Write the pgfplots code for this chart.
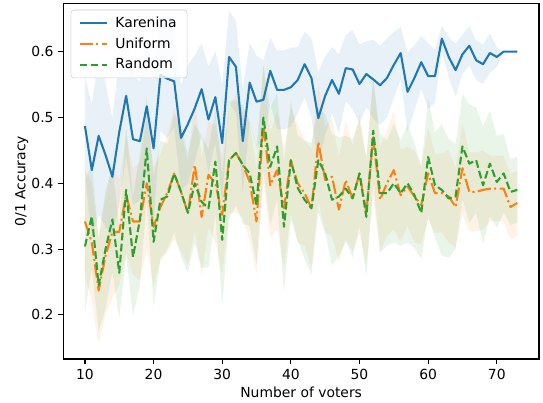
\documentclass[border=0pt]{standalone}
\usepackage{fontspec}
\setmainfont{DejaVu Sans}
\usepackage{pgfplots}
\pgfplotsset{compat=1.18}
\usepgfplotslibrary{fillbetween}
\usepackage{pgfplotstable}

\definecolor{cK}{RGB}{31,119,180}
\definecolor{cU}{RGB}{255,127,14}
\definecolor{cR}{RGB}{44,160,44}

\pgfplotstableread{
x k ke u ue r re
10 0.487 0.075 0.342 0.08 0.304 0.10
11 0.420 0.10 0.310 0.09 0.350 0.08
12 0.472 0.12 0.237 0.08 0.245 0.07
13 0.443 0.11 0.290 0.09 0.300 0.09
14 0.410 0.09 0.326 0.10 0.345 0.08
15 0.478 0.11 0.326 0.08 0.264 0.07
16 0.533 0.09 0.382 0.09 0.390 0.10
17 0.467 0.10 0.342 0.08 0.288 0.09
18 0.464 0.09 0.342 0.09 0.344 0.10
19 0.517 0.10 0.400 0.10 0.453 0.08
20 0.453 0.11 0.334 0.09 0.311 0.10
21 0.565 0.085 0.364 0.08 0.375 0.09
22 0.559 0.09 0.385 0.09 0.380 0.08
23 0.555 0.07 0.415 0.10 0.415 0.09
24 0.469 0.08 0.387 0.09 0.387 0.10
25 0.490 0.09 0.355 0.08 0.355 0.09
26 0.514 0.08 0.428 0.10 0.400 0.09
27 0.543 0.07 0.349 0.09 0.372 0.10
28 0.497 0.08 0.413 0.08 0.362 0.09
29 0.531 0.07 0.400 0.09 0.433 0.08
30 0.461 0.09 0.352 0.09 0.314 0.10
31 0.592 0.07 0.435 0.08 0.435 0.09
32 0.577 0.07 0.446 0.09 0.446 0.08
33 0.464 0.08 0.428 0.08 0.428 0.09
34 0.553 0.06 0.402 0.09 0.415 0.08
35 0.524 0.07 0.342 0.08 0.367 0.09
36 0.527 0.06 0.490 0.09 0.500 0.08
37 0.571 0.05 0.397 0.08 0.425 0.09
38 0.542 0.06 0.420 0.09 0.456 0.08
39 0.542 0.06 0.362 0.09 0.334 0.10
40 0.546 0.06 0.435 0.08 0.435 0.09
41 0.557 0.05 0.400 0.09 0.393 0.08
42 0.581 0.05 0.385 0.08 0.375 0.09
43 0.560 0.06 0.362 0.09 0.362 0.10
44 0.499 0.07 0.463 0.09 0.435 0.08
45 0.533 0.06 0.405 0.08 0.415 0.09
46 0.557 0.05 0.410 0.09 0.375 0.10
47 0.536 0.06 0.360 0.08 0.380 0.09
48 0.575 0.05 0.405 0.09 0.392 0.08
49 0.573 0.06 0.377 0.08 0.377 0.09
50 0.551 0.06 0.415 0.09 0.415 0.08
51 0.566 0.05 0.355 0.08 0.349 0.09
52 0.558 0.06 0.470 0.09 0.480 0.08
53 0.549 0.06 0.375 0.08 0.385 0.09
54 0.560 0.06 0.400 0.08 0.385 0.08
55 0.580 0.05 0.420 0.09 0.400 0.09
56 0.598 0.04 0.382 0.07 0.385 0.08
57 0.539 0.06 0.395 0.06 0.400 0.09
58 0.560 0.05 0.380 0.07 0.382 0.08
59 0.584 0.04 0.367 0.06 0.355 0.07
60 0.563 0.05 0.415 0.07 0.440 0.09
61 0.563 0.04 0.385 0.06 0.397 0.08
62 0.620 0.02 0.385 0.06 0.390 0.10
63 0.592 0.03 0.380 0.07 0.377 0.09
64 0.572 0.04 0.364 0.06 0.380 0.08
65 0.596 0.03 0.423 0.07 0.456 0.08
66 0.609 0.03 0.387 0.06 0.430 0.09
67 0.587 0.03 0.387 0.06 0.435 0.08
68 0.581 0.03 0.390 0.06 0.397 0.09
69 0.598 0.03 0.392 0.05 0.430 0.08
70 0.592 0.015 0.392 0.05 0.402 0.07
71 0.600 0 0.392 0.05 0.415 0.06
72 0.600 0 0.364 0.05 0.387 0.05
73 0.600 0 0.370 0.05 0.390 0.05
}\data

\begin{document}
\fontsize{10}{12}\selectfont
\begin{tikzpicture}
\begin{axis}[
  scale only axis, width=342.5pt, height=256.1pt,
  xmin=6.85, xmax=76.15, ymin=0.133, ymax=0.6735,
  xtick={10,20,...,70}, ytick={0.2,0.3,0.4,0.5,0.6},
  yticklabel style={/pgf/number format/fixed, /pgf/number format/precision=1, /pgf/number format/fixed zerofill},
  /pgf/number format/assume math mode=true,
  tick label style={font=\fontsize{10}{12}\selectfont},
  label style={font=\fontsize{10}{12}\selectfont},
  tick align=outside, xtick pos=lower, ytick pos=left,
  major tick length=3.5pt,
  tick style={black, line width=0.8pt},
  axis line style={black, line width=0.8pt},
  xlabel={Number of voters}, ylabel={0/1 Accuracy},
  xlabel style={at={([yshift=-24pt]rel axis cs:0.5,0)}, anchor=center},
  ylabel style={at={([xshift=-30pt]rel axis cs:0,0.5)}, anchor=center, rotate=0},
  legend style={at={(rel axis cs:0,1)}, anchor=north west, xshift=5.3pt, yshift=-4.6pt,
    draw=black!20, fill=white, fill opacity=0.8, text opacity=1, rounded corners=2pt,
    font=\fontsize{10}{12}\selectfont, row sep=1.8pt, inner xsep=5.5pt, inner ysep=3pt,
    cells={anchor=west}, column sep=3pt},
  legend image code/.code={\draw[#1] (0pt,0pt) -- (20pt,0pt);},
]
% bands
\addplot[draw=none, name path=kU, forget plot] table[x=x, y expr=\thisrow{k}+\thisrow{ke}] {\data};
\addplot[draw=none, name path=kL, forget plot] table[x=x, y expr=\thisrow{k}-\thisrow{ke}] {\data};
\addplot[fill=cK, fill opacity=0.1, draw=none, forget plot] fill between[of=kU and kL];
\addplot[draw=none, name path=uU, forget plot] table[x=x, y expr=\thisrow{u}+\thisrow{ue}] {\data};
\addplot[draw=none, name path=uL, forget plot] table[x=x, y expr=\thisrow{u}-\thisrow{ue}] {\data};
\addplot[fill=cU, fill opacity=0.1, draw=none, forget plot] fill between[of=uU and uL];
\addplot[draw=none, name path=rU, forget plot] table[x=x, y expr=\thisrow{r}+\thisrow{re}] {\data};
\addplot[draw=none, name path=rL, forget plot] table[x=x, y expr=\thisrow{r}-\thisrow{re}] {\data};
\addplot[fill=cR, fill opacity=0.1, draw=none, forget plot] fill between[of=rU and rL];
% lines
\addplot[cK, line width=1.5pt, line join=round] table[x=x, y=k] {\data};
\addlegendentry{Karenina}
\addplot[cU, line width=1.5pt, line join=round, dash pattern=on 9.6pt off 2.4pt on 1.5pt off 2.4pt] table[x=x, y=u] {\data};
\addlegendentry{Uniform}
\addplot[cR, line width=1.5pt, line join=round, dash pattern=on 5.55pt off 2.4pt] table[x=x, y=r] {\data};
\addlegendentry{Random}
\end{axis}
\pgfresetboundingbox
\path ([shift={(-45.6pt,-31pt)}]current axis.south west) rectangle ([shift={(2.9pt,2.4pt)}]current axis.north east);
\end{tikzpicture}
\end{document}
